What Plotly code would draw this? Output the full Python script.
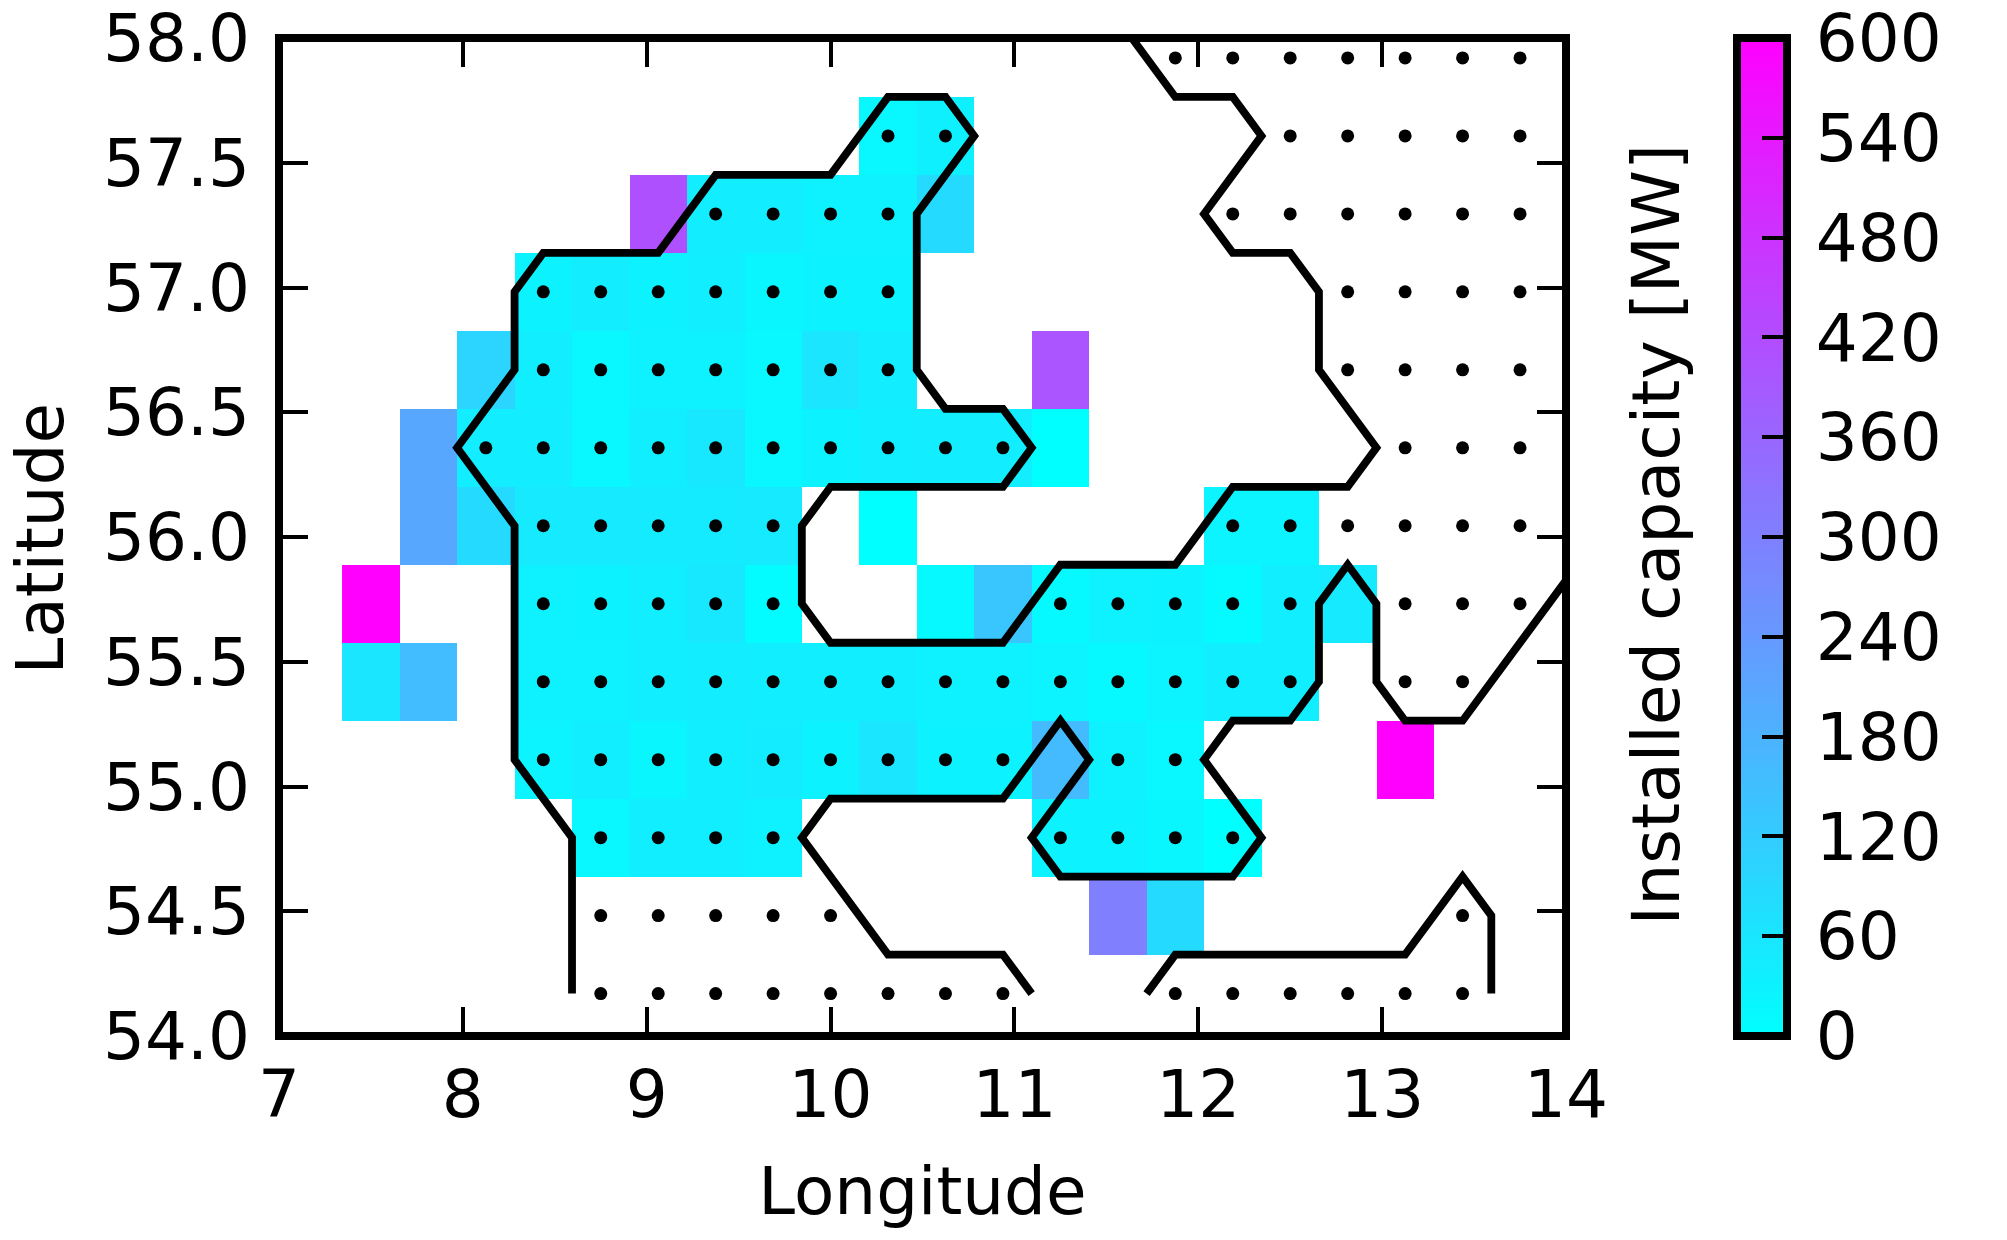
import plotly.graph_objects as go

LON_START = 7.5
LAT_START = 54.17
STEP = 0.3125
N = None
LONS = [LON_START + STEP * i for i in range(21)]
LATS = [LAT_START + STEP * j for j in range(13)]

# Installed capacity [MW] per grid row (south to north), 21 columns
CAP_00 = [N] * 21
CAP_01 = [N,N,N,N,N,N,N,N,N,N,N,N,N,300,85,N,N,N,N,N,N]
CAP_02 = [N,N,N,N,20,40,40,32,N,N,N,N,28,28,22,0,N,N,N,N,N]
CAP_03 = [N,N,N,25,40,22,40,45,28,60,28,28,160,32,20,N,N,N,600,N,N]
CAP_04 = [60,155,N,32,32,40,42,40,40,40,32,32,25,15,25,40,40,N,N,N,N]
CAP_05 = [600,N,N,32,28,40,55,8,N,N,15,135,15,32,28,12,40,50,N,N,N]
CAP_06 = [N,207,85,50,50,48,48,50,N,0,N,N,N,N,N,25,25,N,N,N,N]
CAP_07 = [N,207,42,42,20,40,55,20,28,40,42,42,0,N,N,N,N,N,N,N,N]
CAP_08 = [N,N,100,40,20,32,32,20,60,42,N,N,400,N,N,N,N,N,N,N,N]
CAP_09 = [N,N,N,28,42,28,40,22,28,28,N,N,N,N,N,N,N,N,N,N,N]
CAP_10 = [N,N,N,N,N,412,42,42,32,32,85,N,N,N,N,N,N,N,N,N,N]
CAP_11 = [N,N,N,N,N,N,N,N,N,20,35,N,N,N,N,N,N,N,N,N,N]
CAP_12 = [N] * 21
CAPACITY = [CAP_00, CAP_01, CAP_02, CAP_03, CAP_04, CAP_05, CAP_06,
            CAP_07, CAP_08, CAP_09, CAP_10, CAP_11, CAP_12]

# Grid columns holding a dot, per row (south to north)
DOT_ROWS = [
    list(range(4, 12)) + list(range(14, 20)),
    list(range(4, 9)) + [19],
    list(range(4, 8)) + list(range(12, 16)),
    list(range(3, 12)) + [13, 14],
    list(range(3, 17)) + [18, 19],
    list(range(3, 8)) + list(range(12, 17)) + [18, 19, 20],
    list(range(3, 8)) + list(range(15, 21)),
    list(range(2, 12)) + [18, 19, 20],
    list(range(3, 10)) + list(range(17, 21)),
    list(range(3, 10)) + list(range(17, 21)),
    list(range(6, 10)) + list(range(15, 21)),
    [9, 10] + list(range(16, 21)),
    list(range(14, 21)),
]

# Coastlines in grid units (column, row)
COAST_A_I = [3.5,3.5,2.5,2.5,1.5,2.5,2.5,3,5,6,8,9,10,10.5,9.5,9.5,10,11,11.5,11,8,7.5,7.5,8,11,12,14,15,17,17.5,16.5,16.5,16,15,14.5,15.5,15,14,13]
COAST_A_J = [0,2,3,6,7,8,9,9.5,9.5,10.5,10.5,11.5,11.5,11,10,8,7.5,7.5,7,6.5,6.5,6,5,4.5,4.5,5.5,5.5,6.5,6.5,7,8,9,9.5,9.5,10,11,11.5,11.5,12.5]
COAST_B_I = [11.5,11,9,7.5,8,11,12,12.5,11.5,12,15,15.5,14.5,15,16,16.5,16.5,17,17.5,17.5,18,19,21]
COAST_B_J = [0,0.5,0.5,2,2.5,2.5,3.5,3,2,1.5,1.5,2,3,3.5,3.5,4,5,5.5,5,4,3.5,3.5,5.5]
COAST_C_I = [13.5,14,18,19,19.5,19.5]
COAST_C_J = [0,0.5,0.5,1.5,1,0]
COASTS = [(COAST_A_I, COAST_A_J), (COAST_B_I, COAST_B_J), (COAST_C_I, COAST_C_J)]

LON_TICKS = [7, 8, 9, 10, 11, 12, 13, 14]
LAT_TICKS = [54.0, 54.5, 55.0, 55.5, 56.0, 56.5, 57.0, 57.5, 58.0]
CAP_TICKS = [0, 60, 120, 180, 240, 300, 360, 420, 480, 540, 600]

FONT = "DejaVu Sans"
FS = 66
SCALE = [[0, "#00ffff"], [1, "#ff00ff"]]
CB_COMMON = dict(
    x=1.1329, xanchor="left", y=0.5, yanchor="middle",
    thickness=50, thicknessmode="pixels", len=1, lenmode="fraction",
    xpad=0, ypad=0, borderwidth=0, tickmode="array", tickvals=CAP_TICKS,
)

fig = go.Figure()
# Lower copy: carries the colour bar's tick labels, set further out
fig.add_trace(go.Heatmap(
    x=LONS, y=LATS, z=CAPACITY, zmin=0, zmax=600,
    colorscale=SCALE, hoverongaps=False,
    colorbar=dict(
        CB_COMMON, outlinewidth=0, ticks="outside", ticklen=16, tickwidth=1,
        tickcolor="rgba(0,0,0,0)", ticklabeloverflow="allow",
        tickfont=dict(family=FONT, size=FS, color="black"),
    ),
))
fig.add_trace(go.Heatmap(
    x=LONS, y=LATS, z=CAPACITY, zmin=0, zmax=600,
    colorscale=SCALE, hoverongaps=False,
    colorbar=dict(
        CB_COMMON, outlinecolor="black", outlinewidth=8,
        ticks="inside", ticklen=29, tickwidth=4, tickcolor="black",
        showticklabels=False,
    ),
))
for ci, cj in COASTS:
    fig.add_trace(go.Scatter(
        x=[LON_START + STEP * v for v in ci],
        y=[LAT_START + STEP * v for v in cj],
        mode="lines", line=dict(color="black", width=7.8), showlegend=False,
    ))
dot_x = [LONS[i] for row in DOT_ROWS for i in row]
dot_y = [LATS[j] for j, row in enumerate(DOT_ROWS) for _ in row]
fig.add_trace(go.Scatter(
    x=dot_x, y=dot_y, mode="markers",
    marker=dict(color="black", size=13), showlegend=False,
))

axis = dict(
    showgrid=False, zeroline=False, showline=False,
    mirror="ticks", ticks="inside", ticklen=29, tickwidth=4,
    tickcolor="black", tickfont=dict(family=FONT, size=FS, color="black"),
    ticklabeloverflow="allow",
)
fig.update_layout(
    width=2007, height=1240, autosize=False,
    margin=dict(l=271.4, r=449, t=30, b=212.3, pad=0, autoexpand=False),
    paper_bgcolor="white", plot_bgcolor="white", showlegend=False,
    font=dict(family=FONT, size=FS, color="black"),
    xaxis=dict(axis, range=[7, 14], tickvals=LON_TICKS, tickmode="array",
               ticklabelstandoff=14,
               title=dict(text="Longitude", standoff=35,
                          font=dict(family=FONT, size=FS, color="black"))),
    yaxis=dict(axis, range=[54, 58], tickvals=LAT_TICKS, tickmode="array",
               tickformat=".1f", ticklabelstandoff=28),
    shapes=[dict(type="rect", xref="paper", yref="paper", x0=0, x1=1, y0=0, y1=1,
                 line=dict(color="black", width=8), fillcolor="rgba(0,0,0,0)",
                 layer="above")],
    annotations=[
        dict(text="Installed capacity [MW]", xref="paper", yref="paper",
             x=1.0698, y=0.5024, xanchor="center", yanchor="middle", textangle=-90,
             showarrow=False, font=dict(family=FONT, size=66.5, color="black")),
        dict(text="Latitude", xref="paper", yref="paper",
             x=-0.1853, y=0.498, xanchor="center", yanchor="middle", textangle=-90,
             showarrow=False, font=dict(family=FONT, size=FS, color="black")),
    ],
)
fig.write_html("out.html")
